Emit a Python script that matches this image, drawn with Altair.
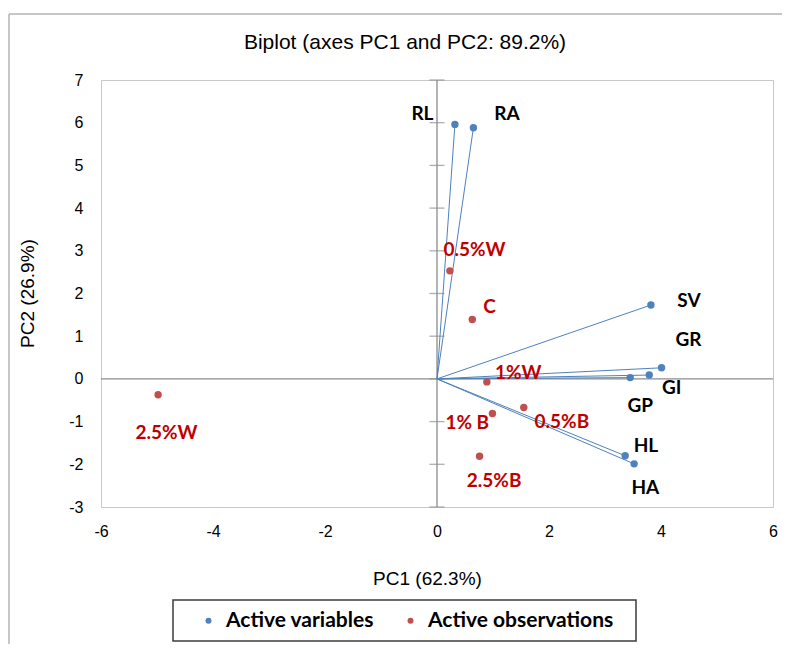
import altair as alt
import pandas as pd

# ---- data ----
var_names = ["RL", "RA", "SV", "GR", "GI", "GP", "HL", "HA"]
var_pc1 = [0.32, 0.65, 3.82, 4.01, 3.79, 3.45, 3.36, 3.52]
var_pc2 = [5.96, 5.88, 1.73, 0.26, 0.09, 0.03, -1.80, -1.99]
var_label_pc1 = [-0.26, 1.25, 4.50, 4.49, 4.19, 3.63, 3.73, 3.72]
var_label_pc2 = [6.20, 6.20, 1.82, 0.90, -0.22, -0.63, -1.57, -2.56]

obs_names = ["0.5%W", "C", "1%W", "0.5%B", "1% B", "2.5%B", "2.5%W"]
obs_pc1 = [0.23, 0.63, 0.89, 1.55, 0.99, 0.76, -4.98]
obs_pc2 = [2.53, 1.39, -0.07, -0.67, -0.81, -1.81, -0.37]
obs_label_pc1 = [0.67, 0.94, 1.45, 2.23, 0.54, 1.02, -4.83]
obs_label_pc2 = [3.03, 1.68, 0.13, -1.02, -1.03, -2.39, -1.27]

x_ticks = [-6, -4, -2, 0, 2, 4, 6]
y_ticks = [-3, -2, -1, 0, 1, 2, 3, 4, 5, 6, 7]
groups = ["Active variables", "Active observations"]

BLUE = "#4f81bd"
RED = "#c0504d"
RED_TXT = "#c00000"
GRAY = "#8c8c8c"

W, H = 672, 427

vars_df = pd.DataFrame({"name": var_names, "pc1": var_pc1, "pc2": var_pc2})
vars_lab = pd.DataFrame({"name": var_names, "pc1": var_label_pc1, "pc2": var_label_pc2})
obs_lab = pd.DataFrame({"name": obs_names, "pc1": obs_label_pc1, "pc2": obs_label_pc2})
pts_df = pd.concat([
    pd.DataFrame({"name": var_names, "pc1": var_pc1, "pc2": var_pc2, "type": groups[0]}),
    pd.DataFrame({"name": obs_names, "pc1": obs_pc1, "pc2": obs_pc2, "type": groups[1]}),
])
yt_df = pd.DataFrame({"pc2": y_ticks})
one = pd.DataFrame({"k": [0]})

xs = alt.Scale(domain=[-6, 6], nice=False, zero=False)
ys = alt.Scale(domain=[-3, 7], nice=False, zero=False)
xaxis = alt.Axis(values=x_ticks, title="PC1 (62.3%)", labelPadding=16, labelFlush=False,
                 labelExpr="'' + datum.value",
                 titleX=326, titleY=71, titleBaseline="middle", titleAlign="center")
yaxis = alt.Axis(values=y_ticks, title="PC2 (26.9%)", labelPadding=18, labelFlush=False,
                 labelExpr="'' + datum.value",
                 titleX=-74, titleY=213, titleBaseline="middle", titleAlign="center", titleAngle=270)


def X(f="pc1"):
    return alt.X(f, type="quantitative", scale=xs, axis=xaxis)


def Y(f="pc2"):
    return alt.Y(f, type="quantitative", scale=ys, axis=yaxis)


# decorative outer frame (left and top edges of the surrounding box)
frame_left = alt.Chart(one).mark_rule(color="#b4b4b4", strokeWidth=1.5).encode(
    x=alt.value(-92), y=alt.value(-66), y2=alt.value(H + 140))
frame_top = alt.Chart(one).mark_rule(color="#b4b4b4", strokeWidth=1.5).encode(
    x=alt.value(-92), x2=alt.value(W + 20), y=alt.value(-66))

# zero axes
vline = alt.Chart(one).mark_rule(color=GRAY, strokeWidth=1.3).encode(
    x=alt.datum(0, scale=xs, axis=xaxis), y=alt.datum(-3, scale=ys, axis=yaxis), y2=alt.datum(7))
hline = alt.Chart(one).mark_rule(color=GRAY, strokeWidth=1.3).encode(
    x=alt.datum(-6), x2=alt.datum(6), y=alt.datum(0))
yticks = alt.Chart(yt_df).mark_tick(color=GRAY, orient="horizontal", size=15, thickness=1.3).encode(
    x=alt.datum(0), y=Y())

vectors = alt.Chart(vars_df).mark_rule(color=BLUE, strokeWidth=1).encode(
    x=X(), y=Y(), x2=alt.datum(0), y2=alt.datum(0))

points = alt.Chart(pts_df).mark_circle(size=55, opacity=1).encode(
    x=X(), y=Y(),
    color=alt.Color("type:N", scale=alt.Scale(domain=groups, range=[BLUE, RED]),
                    legend=alt.Legend(title=None)))

var_text = alt.Chart(vars_lab).mark_text(font="Lato", fontWeight="bold", fontSize=19,
                                         color="#000000", align="center", baseline="middle").encode(
    x=X(), y=Y(), text="name:N")
obs_text = alt.Chart(obs_lab).mark_text(font="Lato", fontWeight="bold", fontSize=19,
                                        color=RED_TXT, align="center", baseline="middle").encode(
    x=X(), y=Y(), text="name:N")

legend_box = alt.Chart(one).mark_rect(fill=None, stroke="#3c3c3c", strokeWidth=1.5).encode(
    x=alt.value(72), x2=alt.value(535), y=alt.value(520), y2=alt.value(561))

chart = alt.layer(
    frame_left, frame_top, vline, hline, yticks, vectors, points, var_text, obs_text, legend_box
).properties(
    width=W, height=H,
    title=alt.TitleParams("Biplot (axes PC1 and PC2: 89.2%)", font="Liberation Sans",
                          fontSize=21, fontWeight="normal", color="#000000",
                          anchor="middle", dx=-32, offset=-61, baseline="bottom"),
    autosize=alt.AutoSizeParams(type="none"),
    padding={"left": 93, "top": 72, "right": 9, "bottom": 137},
).configure_view(
    stroke="#c8c8c8", strokeWidth=1
).configure_axis(
    domain=False, ticks=False, grid=False,
    labelFont="Liberation Sans", labelFontSize=16, labelColor="#000000",
    titleFont="Liberation Sans", titleFontSize=19, titleFontWeight="normal", titleColor="#000000",
).configure_legend(
    orient="none", legendX=97, legendY=530, direction="horizontal",
    labelFont="Lato", labelFontWeight="bold", labelFontSize=21, labelColor="#000000",
    labelLimit=400,
    symbolType="circle", symbolSize=36, symbolStrokeWidth=0, labelOffset=7,
    columnPadding=26, padding=0,
)

chart.save("out.html", embed_options={"renderer": "svg", "actions": False})
